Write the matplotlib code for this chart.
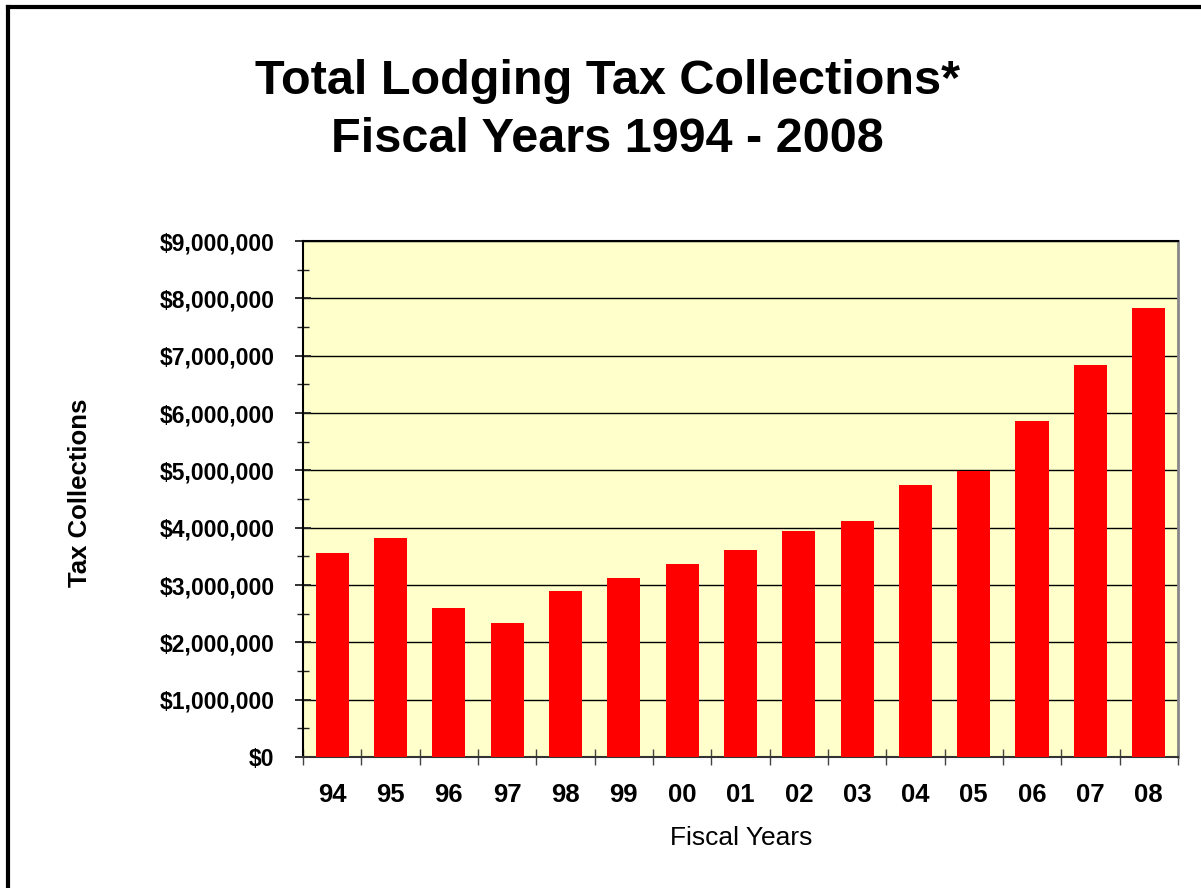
import numpy as np
import matplotlib as mpl
mpl.use('Agg')
import matplotlib.pyplot as plt
from matplotlib.ticker import FuncFormatter, MultipleLocator, FixedLocator

plt.rcParams['font.family'] = ['Liberation Sans', 'DejaVu Sans']

# fiscal years and total collections
years = ["94", "95", "96", "97", "98", "99", "00", "01", "02", "03",
         "04", "05", "06", "07", "08"]
collections = [3550000, 3820000, 2600000, 2340000, 2900000, 3120000,
               3370000, 3610000, 3940000, 4120000, 4740000, 4990000,
               5860000, 6840000, 7830000]

fig = plt.figure(figsize=(12.01, 8.88), dpi=100)

# outer frame (only left and top edges are visible in the reference)
fig.add_artist(plt.Line2D([0.0065, 0.0065], [0, 0.9925], color="black", lw=3,
                          transform=fig.transFigure))
fig.add_artist(plt.Line2D([0.0065, 1.0], [0.9925, 0.9925], color="black", lw=3,
                          transform=fig.transFigure))

ax = fig.add_axes([0.2523, 0.1475, 0.7285, 0.5811])
ax.set_facecolor("#FFFFCC")

x = np.arange(len(years))
ax.bar(x, collections, width=0.57, color="#FF0000", zorder=3)

ax.set_xlim(-0.5, len(years) - 0.5)
ax.set_ylim(0, 9000000)

# gridlines at every million
ax.yaxis.set_major_locator(MultipleLocator(1000000))
ax.yaxis.set_minor_locator(MultipleLocator(500000))
ax.grid(axis="y", which="major", color="black", lw=1, zorder=1)
ax.yaxis.set_major_formatter(FuncFormatter(lambda v, p: "${:,.0f}".format(v)))

ax.set_xticks(x)
ax.set_xticklabels(years)
ax.xaxis.set_minor_locator(FixedLocator(np.arange(-0.5, len(years), 1.0)))

ax.tick_params(axis="x", which="major", length=0, pad=19)
ax.tick_params(axis="x", which="minor", direction="inout", length=11.5,
               width=1, color="#444444")
ax.tick_params(axis="y", which="major", direction="inout", length=11,
               width=1.3, color="#222222", pad=15)
ax.tick_params(axis="y", which="minor", direction="inout", length=9,
               width=1, color="#222222")

for lab in ax.get_xticklabels():
    lab.set_fontweight("bold")
    lab.set_fontsize(18.5)
for lab in ax.get_yticklabels():
    lab.set_fontweight("bold")
    lab.set_fontsize(16.5)

for side in ["top", "left"]:
    ax.spines[side].set_color("black")
    ax.spines[side].set_linewidth(1.5)
ax.spines["right"].set_color("#888888")
ax.spines["right"].set_linewidth(2)
ax.spines["bottom"].set_color("#333333")
ax.spines["bottom"].set_linewidth(1.5)

fig.text(0.5055, 0.908, "Total Lodging Tax Collections*", ha="center", va="center",
         fontsize=35, fontweight="bold")
fig.text(0.5055, 0.843, "Fiscal Years 1994 - 2008", ha="center", va="center",
         fontsize=35, fontweight="bold")
fig.text(0.0666, 0.445, "Tax Collections", rotation=90, ha="center", va="center",
         fontsize=18.5, fontweight="bold")
fig.text(0.617, 0.056, "Fiscal Years", ha="center", va="center", fontsize=19)

plt.savefig("out.png", dpi=100)
